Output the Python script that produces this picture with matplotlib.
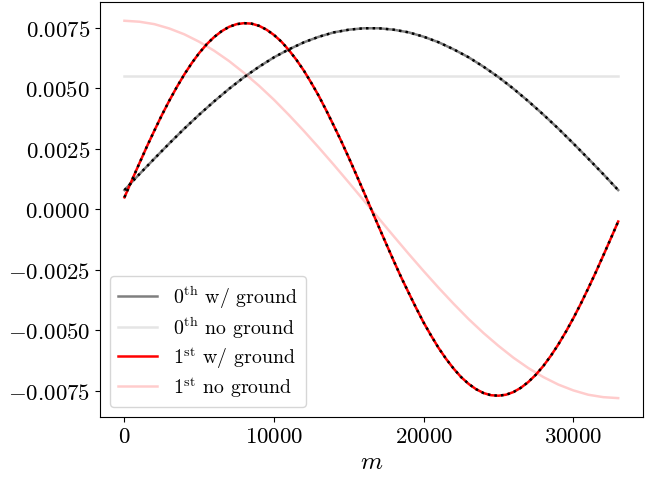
import matplotlib
matplotlib.use("Agg")
import matplotlib.pyplot as plt

plt.rcParams['font.family'] = 'serif'
plt.rcParams['font.serif'] = ['cmr10', 'DejaVu Serif']
plt.rcParams['mathtext.fontset'] = 'cm'
plt.rcParams['axes.formatter.use_mathtext'] = True
plt.rcParams['font.size'] = 16.5
plt.rcParams['lines.linewidth'] = 1.8

# position along the line (m)
m = [0, 1000, 2000, 3000, 4000, 5000, 6000, 7000, 8000, 9000, 10000,
     11000, 12000, 13000, 14000, 15000, 16000, 17000, 18000, 19000, 20000,
     21000, 22000, 23000, 24000, 25000, 26000, 27000, 28000, 29000, 30000,
     31000, 32000, 33000]
# finer sampling for the 1st mode with ground
m_fine = [i * 500 for i in range(67)]

mode0_ground = [0.00080, 0.00146, 0.00210, 0.00273, 0.00334, 0.00392, 0.00447,
                0.00499, 0.00547, 0.00590, 0.00629, 0.00662, 0.00691, 0.00714,
                0.00732, 0.00743, 0.00749, 0.00749, 0.00743, 0.00732, 0.00714,
                0.00691, 0.00662, 0.00629, 0.00590, 0.00547, 0.00499, 0.00447,
                0.00392, 0.00334, 0.00273, 0.00210, 0.00146, 0.00080]

mode0_noground = [0.0055] * 34

mode1_ground = [0.00050, 0.00121, 0.00191, 0.00260, 0.00326, 0.00390, 0.00450,
                0.00506, 0.00558, 0.00605, 0.00647, 0.00683, 0.00713, 0.00737,
                0.00755, 0.00766, 0.00770, 0.00768, 0.00759, 0.00743, 0.00721,
                0.00693, 0.00658, 0.00618, 0.00573, 0.00522, 0.00468, 0.00408,
                0.00345, 0.00281, 0.00213, 0.00143, 0.00072, 0.00000,
                -0.00072, -0.00143, -0.00213, -0.00281, -0.00345, -0.00408,
                -0.00468, -0.00522, -0.00573, -0.00618, -0.00658, -0.00693,
                -0.00721, -0.00743, -0.00759, -0.00768, -0.00770, -0.00766,
                -0.00755, -0.00737, -0.00713, -0.00683, -0.00647, -0.00605,
                -0.00558, -0.00506, -0.00450, -0.00390, -0.00326, -0.00260,
                -0.00191, -0.00121, -0.00050]

mode1_noground = [0.00780, 0.00776, 0.00766, 0.00748, 0.00724, 0.00693, 0.00656,
                  0.00613, 0.00564, 0.00511, 0.00453, 0.00390, 0.00324, 0.00255,
                  0.00184, 0.00111, 0.00037, -0.00037, -0.00111, -0.00184,
                  -0.00255, -0.00324, -0.00390, -0.00453, -0.00511, -0.00564,
                  -0.00613, -0.00656, -0.00693, -0.00724, -0.00748, -0.00766,
                  -0.00776, -0.00780]

fig = plt.figure(figsize=(6.52, 4.81), dpi=100)
ax = fig.add_axes([0.153, 0.131, 0.833, 0.863])

ax.plot(m, mode0_ground, 'k', alpha=0.5, label=r"$0^{\rm th}$ w/ ground")
ax.plot(m, mode0_noground, 'k', alpha=0.1, label=r"$0^{\rm th}$ no ground")
ax.plot(m_fine, mode1_ground, 'r', label=r"$1^{\rm st}$ w/ ground")
ax.plot(m, mode1_noground, 'r', alpha=0.2, label=r"$1^{\rm st}$ no ground")
ax.plot(m, mode0_ground, 'k:')
ax.plot(m_fine, mode1_ground, 'k:')

ax.set_xlabel(r"$m$", fontsize=18, labelpad=3)
ax.set_xticks([0, 10000, 20000, 30000])
ax.set_yticks([-0.0075, -0.005, -0.0025, 0, 0.0025, 0.005, 0.0075])
ax.legend(loc='lower left', fontsize=14.3, labelspacing=0.22)

fig.savefig("out.png", dpi=100)
